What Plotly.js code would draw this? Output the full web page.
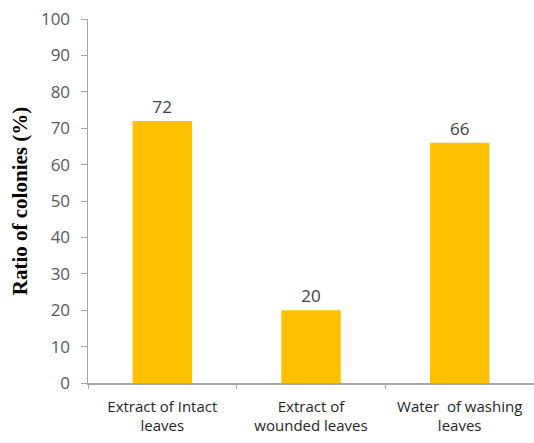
<!DOCTYPE html>
<html>
<head>
<meta charset="utf-8">
<script src="https://cdn.plot.ly/plotly-3.0.1.min.js"></script>
<style>
  html, body { margin: 0; padding: 0; background: #fff; }
  #chart { width: 534px; height: 443px; }
</style>
</head>
<body>
<div id="chart"></div>
<script>
// Colony ratio per treatment
const categories = [
  "Extract of Intact<br>leaves",
  "Extract of<br>wounded leaves",
  "Water  of washing<br>leaves"
];
const ratios = [72, 20, 66];
const yTicks = [0, 10, 20, 30, 40, 50, 60, 70, 80, 90, 100];

const trace = {
  type: "bar",
  x: categories,
  y: ratios,
  text: ratios.map(String),
  textposition: "outside",
  cliponaxis: false,
  textfont: { family: "Open Sans, Arial, sans-serif", size: 17, color: "#404040" },
  marker: { color: "#FFC000" },
  width: 0.4,
  hoverinfo: "x+y"
};

const layout = {
  width: 534,
  height: 443,
  margin: { l: 88, r: 0, t: 19, b: 60 },
  paper_bgcolor: "#ffffff",
  plot_bgcolor: "#ffffff",
  showlegend: false,
  xaxis: {
    type: "category",
    showline: true,
    linecolor: "#a6a6a6",
    linewidth: 1.5,
    ticks: "outside",
    tickson: "boundaries",
    ticklen: 4,
    tickcolor: "#a6a6a6",
    showgrid: false,
    zeroline: false,
    ticklabelstandoff: 9,
    tickfont: { family: "Open Sans, Arial, sans-serif", size: 15, color: "#262626" },
    fixedrange: true
  },
  yaxis: {
    range: [0, 100],
    tickvals: yTicks,
    showline: true,
    linecolor: "#a6a6a6",
    linewidth: 1.5,
    ticks: "outside",
    ticklen: 6,
    tickcolor: "#a6a6a6",
    showgrid: false,
    zeroline: false,
    ticklabelstandoff: 7,
    tickfont: { family: "Open Sans, Arial, sans-serif", size: 17, color: "#595959" },
    title: {
      text: "Ratio of colonies (%)",
      font: { family: "Liberation Serif, Times New Roman, serif", size: 21, color: "#000000", weight: "bold" },
      standoff: 7
    },
    fixedrange: true
  }
};

Plotly.newPlot("chart", [trace], layout, { displayModeBar: false, staticPlot: true });
</script>
</body>
</html>
